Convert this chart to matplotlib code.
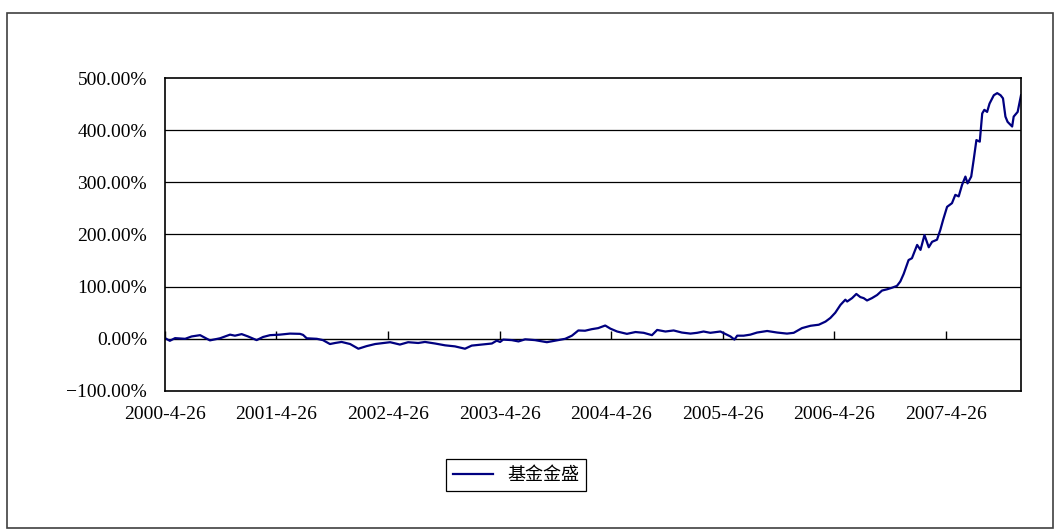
import pandas as pd
import matplotlib.pyplot as plt
from matplotlib.patches import Rectangle

dates = ['2000-04-26', '2000-05-12', '2000-05-29', '2000-07-01', '2000-07-22', '2000-08-19',
         '2000-09-20', '2000-10-23', '2000-11-25', '2000-12-11', '2001-01-02', '2001-01-23',
         '2001-02-20', '2001-03-13', '2001-04-05', '2001-05-07', '2001-06-09', '2001-07-12',
         '2001-07-22', '2001-08-03', '2001-09-05', '2001-09-25', '2001-10-18', '2001-11-04',
         '2001-11-25', '2001-12-23', '2002-01-19', '2002-02-15', '2002-03-15', '2002-04-11',
         '2002-05-03', '2002-06-04', '2002-07-01', '2002-08-03', '2002-08-25', '2002-09-27',
         '2002-10-30', '2002-12-01', '2003-01-03', '2003-01-25', '2003-02-27', '2003-04-01',
         '2003-04-17', '2003-04-28', '2003-05-08', '2003-06-05', '2003-06-27', '2003-07-19',
         '2003-08-20', '2003-09-28', '2003-10-25', '2003-11-27', '2003-12-19', '2004-01-09',
         '2004-01-31', '2004-02-22', '2004-03-14', '2004-04-06', '2004-04-23', '2004-05-15',
         '2004-06-16', '2004-07-14', '2004-08-10', '2004-09-06', '2004-09-23', '2004-10-20',
         '2004-11-16', '2004-12-13', '2005-01-10', '2005-02-01', '2005-02-22', '2005-03-16',
         '2005-04-18', '2005-05-04', '2005-05-21', '2005-06-03', '2005-06-12', '2005-07-03',
         '2005-07-25', '2005-08-16', '2005-09-18', '2005-10-21', '2005-11-22', '2005-12-14',
         '2006-01-10', '2006-02-07', '2006-03-06', '2006-03-28', '2006-04-13', '2006-04-29',
         '2006-05-16', '2006-06-01', '2006-06-07', '2006-06-23', '2006-07-07', '2006-07-20',
         '2006-07-31', '2006-08-11', '2006-08-27', '2006-09-13', '2006-09-29', '2006-10-16',
         '2006-11-01', '2006-11-17', '2006-11-28', '2006-12-09', '2006-12-25', '2007-01-05',
         '2007-01-22', '2007-02-02', '2007-02-15', '2007-03-01', '2007-03-12', '2007-03-28',
         '2007-04-08', '2007-04-17', '2007-04-30', '2007-05-16', '2007-05-27', '2007-06-07',
         '2007-06-18', '2007-06-29', '2007-07-06', '2007-07-18', '2007-07-26', '2007-08-04',
         '2007-08-15', '2007-08-23', '2007-08-30', '2007-09-08', '2007-09-16', '2007-09-30',
         '2007-10-11', '2007-10-22', '2007-10-30', '2007-11-07', '2007-11-14', '2007-11-29',
         '2007-12-04', '2007-12-17', '2007-12-28']

jinsheng = [1.3, -3.8, 1.3, 0, 4.5, 7,
            -3, 1, 8, 6, 9, 4.5,
            -2.5, 3.5, 7, 8, 10, 9.5,
            7.5, 1, 0, -2.5, -10, -8,
            -6, -10, -19, -14, -10, -8,
            -6.5, -11, -6.5, -8, -6, -9,
            -12.5, -14.5, -19, -13, -11, -9,
            -3.5, -6, -1.5, -2.5, -5, -1,
            -2.5, -6.5, -3.5, 0, 6, 16,
            15.5, 18.5, 20.5, 25.5, 19.5, 14,
            9.5, 13, 11.5, 7, 17, 14,
            16, 12, 10, 11.5, 14, 11.5,
            14, 9.5, 4.5, -1.5, 6, 6,
            8, 12, 15, 12, 10, 11.5,
            20.5, 25, 27, 33, 40, 50,
            65, 75, 71.5, 78, 86, 80,
            78, 73.5, 78, 84, 92.5, 95,
            98, 101.5, 110, 124.5, 151, 154.5,
            180, 170.5, 199, 175.5, 186, 190,
            209, 228, 253, 260, 276, 273,
            295, 311, 298, 311, 343, 381,
            378, 432, 439, 435, 451, 467,
            471, 467, 461, 426, 416, 407,
            426, 435, 467]

tick_dates = ['2000-04-26', '2001-04-26', '2002-04-26', '2003-04-26',
              '2004-04-26', '2005-04-26', '2006-04-26', '2007-04-26']
tick_labels = ['2000-4-26', '2001-4-26', '2002-4-26', '2003-4-26',
               '2004-4-26', '2005-4-26', '2006-4-26', '2007-4-26']
y_ticks = [-100, 0, 100, 200, 300, 400, 500]

x = pd.to_datetime(dates)
xt = pd.to_datetime(tick_dates)

fig = plt.figure(figsize=(10.63, 5.31), dpi=100)
fig.patches.append(Rectangle((0.0066, 0.0056), 0.984, 0.97, transform=fig.transFigure,
                             fill=False, edgecolor='#404040', linewidth=1.2))
ax = fig.add_axes([0.1552, 0.2637, 0.8053, 0.5894])

ax.plot(x, jinsheng, color='#000080', linewidth=1.6, label='基金金盛')
ax.set_xlim(pd.Timestamp('2000-04-26'), pd.Timestamp('2007-12-28'))
ax.set_ylim(-100, 500)

for v in y_ticks[2:-1]:
    ax.axhline(v, color='black', linewidth=0.9, zorder=0)
ax.axhline(0, color='black', linewidth=1.0, zorder=1)

ax.set_yticks(y_ticks)
ax.set_yticklabels([('%.2f%%' % v).replace('-', '\u2212') for v in y_ticks],
                   family='Liberation Serif', fontsize=14)
ax.tick_params(axis='y', length=0, pad=13)

ax.set_xticks(xt)
ax.set_xticklabels(tick_labels, family='Liberation Serif', fontsize=14)
ax.tick_params(axis='x', length=0, pad=11)

# category axis sits on the zero line, ticks pointing up
sec = ax.secondary_xaxis(1 / 6)
sec.set_xticks(xt)
sec.tick_params(axis='x', direction='in', length=6, width=1, labelbottom=False, labeltop=False)
sec.spines['bottom'].set_visible(False)
sec.spines['top'].set_visible(False)

for s in ax.spines.values():
    s.set_linewidth(1.2)

leg = fig.legend(loc='center', bbox_to_anchor=(0.4854, 0.1055), fancybox=False,
                 framealpha=1, edgecolor='black', handlelength=2.2,
                 prop={'family': 'Noto Sans CJK SC', 'size': 13})
leg.get_frame().set_linewidth(0.9)

fig.savefig('out.png', dpi=100)
